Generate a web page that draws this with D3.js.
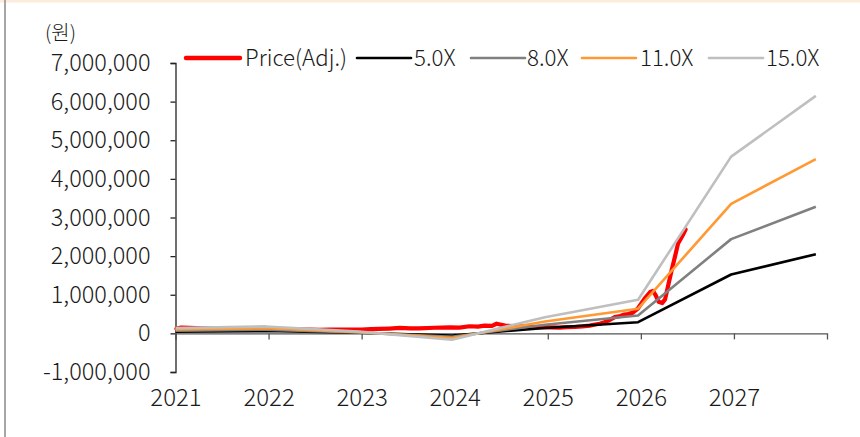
<!DOCTYPE html>
<html><head><meta charset="utf-8">
<script src="https://cdn.jsdelivr.net/npm/d3@7"></script>
<style>
html,body{margin:0;padding:0;background:#fff;}
svg{display:block;}
text{font-family:"Noto Sans CJK KR","Noto Sans",sans-serif;fill:#1a1a1a;font-weight:300;}
</style></head>
<body>
<svg id="chart" width="860" height="437"></svg>
<script>
// ---- data ----
const yearTicks = [2021, 2022, 2023, 2024, 2025, 2026, 2027];
const yTicks = [-1000000, 0, 1000000, 2000000, 3000000, 4000000, 5000000, 6000000, 7000000];
const unitLabel = "(원)";
const seriesNames = ["Price(Adj.)", "5.0X", "8.0X", "11.0X", "15.0X"];

const bandX = [2021.0, 2021.97, 2022.97, 2023.97, 2024.97, 2025.97, 2026.97, 2027.88];
const band5  = [45000, 60000, 15000, -55000, 140000, 290000, 1525000, 2050000];
const band8  = [72000, 96000, 24000, -88000, 224000, 464000, 2440000, 3280000];
const band11 = [99000, 132000, 33000, -121000, 308000, 638000, 3355000, 4510000];
const band15 = [135000, 180000, 45000, -165000, 420000, 870000, 4575000, 6150000];

const priceX = [2021.01, 2021.06, 2021.15, 2021.3, 2021.47, 2021.62, 2021.8, 2021.95, 2022.12, 2022.28, 2022.44, 2022.55, 2022.66, 2022.8,
  2023.0, 2023.1, 2023.19, 2023.3, 2023.41, 2023.52, 2023.62, 2023.78, 2023.95, 2024.05, 2024.16, 2024.25, 2024.32, 2024.4, 2024.45,
  2024.5, 2024.54, 2024.62, 2024.7, 2024.8, 2024.91, 2025.02, 2025.13, 2025.2, 2025.29, 2025.37, 2025.45, 2025.51, 2025.56, 2025.61,
  2025.65, 2025.72, 2025.78, 2025.81, 2025.86, 2025.91, 2025.97, 2026.04, 2026.1, 2026.13, 2026.16, 2026.19, 2026.23, 2026.26,
  2026.29, 2026.33, 2026.37, 2026.4, 2026.45, 2026.48];
const priceY = [120000, 150000, 140000, 130000, 125000, 115000, 120000, 110000, 105000, 100000, 95000, 90000, 95000, 100000,
  100000, 110000, 115000, 125000, 140000, 130000, 130000, 145000, 155000, 150000, 185000, 175000, 200000, 195000, 250000,
  225000, 200000, 190000, 180000, 170000, 160000, 155000, 150000, 160000, 165000, 180000, 200000, 230000, 250000, 290000,
  330000, 420000, 450000, 480000, 500000, 530000, 650000, 900000, 1070000, 1100000, 985000, 820000, 785000, 880000,
  1200000, 1630000, 2020000, 2330000, 2540000, 2690000];

const colors = ["#ff0000", "#000000", "#808080", "#ff9933", "#bfbfbf"];

// ---- chart ----
const svg = d3.select("#chart");
const fmt = d3.formatLocale({decimal: ".", thousands: ",", grouping: [3], currency: ["", ""], minus: "-"}).format(",");
const FONT = '"Noto Sans CJK KR","Noto Sans",sans-serif';

// frame decorations
svg.append("rect").attr("x", 0).attr("y", 0).attr("width", 860).attr("height", 2.5).attr("fill", "#fdecdc");
svg.append("rect").attr("x", 4).attr("y", 0).attr("width", 2).attr("height", 437).attr("fill", "#a6a6a6");

const x = d3.scaleLinear().domain([2021, 2028]).range([175.5, 827]);
const y = d3.scaleLinear().domain([-1000000, 7000000]).range([372, 63]);

// y axis
const yAxis = svg.append("g").attr("transform", "translate(175.5,0)")
  .call(d3.axisLeft(y).tickValues(yTicks).tickFormat(fmt).tickSize(5).tickPadding(20));
yAxis.select(".domain").attr("stroke", "#222").attr("stroke-width", 1.3);
yAxis.selectAll(".tick line").attr("stroke", "#222").attr("stroke-width", 1.3);
yAxis.selectAll("text").attr("font-size", 23.5).attr("fill", "#1a1a1a")
  .attr("font-family", FONT).attr("font-weight", 300);

// x axis on zero line
const xAxis = svg.append("g").attr("transform", `translate(0,${y(0)})`)
  .call(d3.axisBottom(x).tickValues(yearTicks).tickFormat(d => String(d)).tickSize(6).tickPadding(50));
xAxis.select(".domain").attr("stroke", "#555").attr("stroke-width", 1.3);
xAxis.selectAll(".tick line").attr("stroke", "#555").attr("stroke-width", 1.3);
xAxis.selectAll("text").attr("font-size", 24).attr("fill", "#1a1a1a")
  .attr("font-family", FONT).attr("font-weight", 300);

// unit label
svg.append("text").attr("x", 45).attr("y", 40).attr("font-size", 20).text(unitLabel);

// lines
const line = d3.line().x(d => x(d[0])).y(d => y(d[1]));
const priceData = priceX.map((v, i) => [v, priceY[i]]);
svg.append("path").datum(priceData).attr("d", line).attr("fill", "none")
  .attr("stroke", colors[0]).attr("stroke-width", 4.2).attr("stroke-linejoin", "round").attr("stroke-linecap", "round");

const bands = [band5, band8, band11, band15];
bands.forEach((b, i) => {
  svg.append("path").datum(bandX.map((v, j) => [v, b[j]])).attr("d", line).attr("fill", "none")
    .attr("stroke", colors[i + 1]).attr("stroke-width", 2.6).attr("stroke-linejoin", "round");
});

// legend
const legendItems = [
  {sx: 186, tx: 245, w: 4.5},
  {sx: 357, tx: 414, w: 2.6},
  {sx: 471, tx: 527, w: 2.6},
  {sx: 582, tx: 640, w: 2.6},
  {sx: 709, tx: 766, w: 2.6}
];
const legY = 58;
const lg = svg.append("g");
seriesNames.forEach((name, i) => {
  const it = legendItems[i];
  lg.append("line").attr("x1", it.sx).attr("x2", it.sx + 54).attr("y1", legY).attr("y2", legY)
    .attr("stroke", colors[i]).attr("stroke-width", it.w).attr("stroke-linecap", "round");
  lg.append("text").attr("x", it.tx).attr("y", legY).attr("dy", "0.35em").attr("font-size", 22.3).text(name);
});
</script>
</body></html>
